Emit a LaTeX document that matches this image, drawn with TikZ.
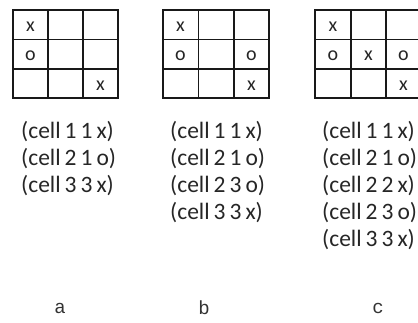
\documentclass[tikz,border=0pt]{standalone}
\usepackage{fontspec}
\setmainfont{Carlito}
\newfontfamily\labfont{Liberation Mono}
\newcommand\listfontsel{\fontsize{23.5}{27}\selectfont\spaceskip 0.17em\relax}
\begin{document}
\begin{tikzpicture}[x=1pt,y=-1pt,
  gridline/.style={line width=1.5pt, black!90},
  cellmark/.style={font=\fontsize{20}{20}\selectfont, text=black!85, inner sep=0pt},
  listline/.style={font=\listfontsel, text=black!85, anchor=base west, inner sep=0pt},
  caption/.style={font=\labfont\fontsize{19}{19}\selectfont, text=black!80, inner sep=0pt}]
\useasboundingbox (0,0) rectangle (418,322);
% grid a
\draw[gridline] (13,10) rectangle (118,98);
\draw[gridline] (48,10) -- (48,98) (83,10) -- (83,98)
  (13,39.5) -- (118,39.5) (13,69) -- (118,69);
\node[cellmark] (a11) at (30.5,26.5) {x};
\node[cellmark] (a21) at (30.5,56) {o};
\node[cellmark] (a33) at (100.5,85.5) {x};
% grid b
\draw[gridline] (163,10) rectangle (269,98);
\draw[gridline] (198.5,10) -- (198.5,98) (234,10) -- (234,98)
  (163,39.5) -- (269,39.5) (163,69) -- (269,69);
\node[cellmark] (b11) at (180.5,26.5) {x};
\node[cellmark] (b21) at (180.5,56) {o};
\node[cellmark] (b23) at (251.5,56) {o};
\node[cellmark] (b33) at (251.5,85.5) {x};
% grid c
\draw[gridline] (315,10) rectangle (421,98);
\draw[gridline] (351,10) -- (351,98) (386,10) -- (386,98)
  (315,39.5) -- (421,39.5) (315,69) -- (421,69);
\node[cellmark] (c11) at (333,26.5) {x};
\node[cellmark] (c21) at (333,56) {o};
\node[cellmark] (c22) at (368.5,56) {x};
\node[cellmark] (c23) at (403.5,56) {o};
\node[cellmark] (c33) at (403.5,85.5) {x};
% lists
\node[listline] (la1) at (21,138) {(cell 1 1 x)};
\node[listline] (la2) at (21,165) {(cell 2 1 o)};
\node[listline] (la3) at (21,192) {(cell 3 3 x)};
\node[listline] (lb1) at (170,138) {(cell 1 1 x)};
\node[listline] (lb2) at (170,165) {(cell 2 1 o)};
\node[listline] (lb3) at (170,192) {(cell 2 3 o)};
\node[listline] (lb4) at (170,219) {(cell 3 3 x)};
\node[listline] (lc1) at (322,138) {(cell 1 1 x)};
\node[listline] (lc2) at (322,165) {(cell 2 1 o)};
\node[listline] (lc3) at (322,192) {(cell 2 2 x)};
\node[listline] (lc4) at (322,219) {(cell 2 3 o)};
\node[listline] (lc5) at (322,246) {(cell 3 3 x)};
% captions
\node[caption] (capa) at (60,308) {a};
\node[caption] (capb) at (204,308) {b};
\node[caption] (capc) at (378,308) {c};
\end{tikzpicture}
\end{document}
